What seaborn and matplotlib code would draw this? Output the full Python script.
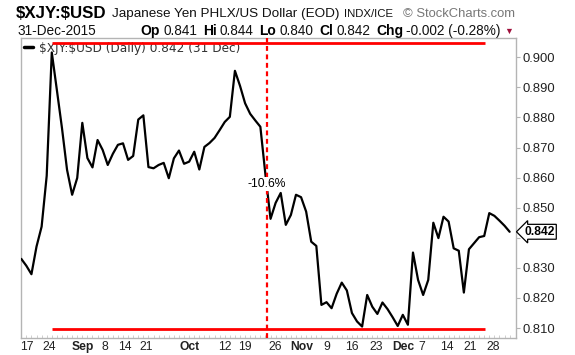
import matplotlib
matplotlib.use("Agg")
import matplotlib.pyplot as plt
import seaborn as sns
import pandas as pd

# ---------------- data ----------------
symbol = "$XJY:$USD"
description = "Japanese Yen PHLX/US Dollar (EOD)"
exchange = "INDX/ICE"
source = "\u00a9 StockCharts.com"
last_date = "31-Dec-2015"
ohlc_labels = ["Op", "Hi", "Lo", "Cl", "Chg"]
ohlc_values = ["0.841", "0.844", "0.840", "0.842", "-0.002 (-0.28%)"]
legend_label = "$XJY:$USD (Daily) 0.842 (31 Dec)"

close = [
    0.8330, 0.8307, 0.8279, 0.8371, 0.8437, 0.8606, 0.9016, 0.8891, 0.8765, 0.8626,
    0.8543, 0.8599, 0.8782, 0.8665, 0.8634, 0.8725, 0.8692, 0.8642, 0.8679, 0.8709,
    0.8714, 0.8659, 0.8672, 0.8793, 0.8807, 0.8635, 0.8631, 0.8642, 0.8649, 0.8598,
    0.8664, 0.8690, 0.8646, 0.8653, 0.8686, 0.8627, 0.8702, 0.8715, 0.8732, 0.8758,
    0.8785, 0.8802, 0.8955, 0.8905, 0.8847, 0.8812, 0.8790, 0.8769, 0.8609, 0.8463,
    0.8516, 0.8549, 0.8443, 0.8476, 0.8543, 0.8535, 0.8487, 0.8387, 0.8373, 0.8177,
    0.8186, 0.8166, 0.8214, 0.8251, 0.8225, 0.8150, 0.8122, 0.8105, 0.8210, 0.8171,
    0.8147, 0.8185, 0.8163, 0.8136, 0.8107, 0.8144, 0.8111, 0.8351, 0.8260, 0.8210,
    0.8260, 0.8450, 0.8399, 0.8470, 0.8454, 0.8365, 0.8357, 0.8218, 0.8362, 0.8382,
    0.8402, 0.8406, 0.8482, 0.8473, 0.8457, 0.8440, 0.8420,
]
last_value = 0.842

x_tick_labels = ["17", "24", "Sep", "8", "14", "21", "Oct", "12", "19", "26",
                 "Nov", "9", "16", "23", "Dec", "7", "14", "21", "28"]
month_labels = ["Sep", "Oct", "Nov", "Dec"]
y_ticks = [0.810, 0.820, 0.830, 0.840, 0.850, 0.860, 0.870, 0.880, 0.890, 0.900]

change_label = "-10.6%"
upper_level = 0.9048
lower_level = 0.8096

# ---------------- layout / style ----------------
x_tick_pos = [1.04, 5.57, 12.06, 16.52, 20.32, 24.59, 33.11, 39.99, 43.93, 49.83,
              55.08, 60.0, 64.92, 69.84, 75.07, 78.69, 83.61, 88.19, 92.72]
event_x = 48.25
level_x = (5.96, 91.14)
label_y = 0.8579

W, H = 575, 355
sns.set_theme(style="white")
plt.rcParams["font.family"] = ["Liberation Sans", "DejaVu Sans"]


def esc(s):
    return s.replace("$", r"\$")


fig = plt.figure(figsize=(W / 100, H / 100), dpi=100)
ax = fig.add_axes([20.5 / W, 1 - 338 / H, (516 - 20.5) / W, (338 - 38) / H])

df = pd.DataFrame({"day": range(len(close)), "close": close})
sns.lineplot(data=df, x="day", y="close", ax=ax, color="black", linewidth=1.6,
             label=esc(legend_label), zorder=3)

ax.set_xlim(-0.15, 97.25)
ax.set_ylim(0.8067, 0.9064)

# red support / resistance lines and event line
ax.hlines([upper_level, lower_level], level_x[0], level_x[1], color="#ff0000",
          linewidth=2.0, zorder=6)
ax.axvline(event_x, color="#ff0000", linewidth=1.6, linestyle=(0, (2.2, 1.6)), zorder=4)
ax.text(event_x, label_y, change_label, ha="center", va="center", fontsize=8.7,
        color="black", zorder=7,
        bbox=dict(boxstyle="square,pad=0.1", fc="white", ec="none"))

# axes styling
for sp in ax.spines.values():
    sp.set_color("#b4b4b4")
    sp.set_linewidth(1.0)

ax.yaxis.tick_right()
ax.set_yticks(y_ticks)
# the 0.840 label sits beneath the last-value marker in the reference
ax.set_yticklabels(["" if abs(v - 0.840) < 1e-9 else f"{v:.3f}" for v in y_ticks])
ax.tick_params(axis="y", which="major", direction="out", length=3, width=0.8,
               color="#b4b4b4", labelsize=9.4, labelcolor="#222222", pad=1.5,
               right=True, left=False)

ax.set_xticks(x_tick_pos)
ax.set_xticklabels(x_tick_labels)
for t in ax.get_xticklabels():
    if t.get_text() in month_labels:
        t.set_fontweight("bold")
ax.tick_params(axis="x", which="major", length=0, labelsize=8.7, labelcolor="#222222", pad=2.5)
ax.set_xticks(range(len(close)), minor=True)
ax.tick_params(axis="x", which="minor", direction="in", length=2, width=0.6,
               color="#c8c8c8", bottom=True)
ax.set_xlabel("")
ax.set_ylabel("")

leg = ax.legend(loc="upper left", bbox_to_anchor=(0, 1), borderaxespad=0.05,
                borderpad=0.25, handlelength=0.7, handletextpad=0.5, frameon=False,
                prop={"family": ["DejaVu Sans"], "size": 8.7})
for line in leg.get_lines():
    line.set_linewidth(2.5)
for t in leg.get_texts():
    t.set_color("#333333")

# last value marker on right axis
ax.annotate(f"{last_value:.3f}", xy=(1, last_value), xycoords=("axes fraction", "data"),
            xytext=(6, 0), textcoords="offset points", ha="left", va="center",
            fontsize=8.7, fontweight="bold", color="black", annotation_clip=False,
            bbox=dict(boxstyle="larrow,pad=0.12", fc="white", ec="black", lw=0.9),
            zorder=10)

renderer = fig.canvas.get_renderer()


def ftext(x, y, s, **kw):
    kw.setdefault("ha", "left")
    return fig.text(x / W, 1 - y / H, s, va="center", **kw)


def right_edge(t):
    return t.get_window_extent(renderer=renderer).x1


# header line 1: pieces laid out one after another
t1 = ftext(16, 14, esc(symbol), fontsize=12.2, fontweight="bold", color="black")
t2 = ftext(right_edge(t1) + 5, 14, description, fontsize=9.7, color="#111111")
t3 = ftext(right_edge(t2) + 5, 14, exchange, fontsize=8.2, color="#111111")
ftext(515, 14, source, fontsize=9.4, color="#777777", ha="right")

# header line 2
ftext(18, 31, last_date, fontsize=9.8, color="#111111")
x = 140.7
for lab, val in zip(ohlc_labels, ohlc_values):
    tl = ftext(x, 31, lab, fontsize=10.0, fontweight="bold", color="black")
    tv = ftext(right_edge(tl) + 3, 31, val, fontsize=9.8, color="#111111")
    x = right_edge(tv) + 6
ftext(x - 2, 31.5, "\u25bc", fontsize=6.5, color="#a0103c")

fig.savefig("out.png", dpi=100, facecolor="white")
